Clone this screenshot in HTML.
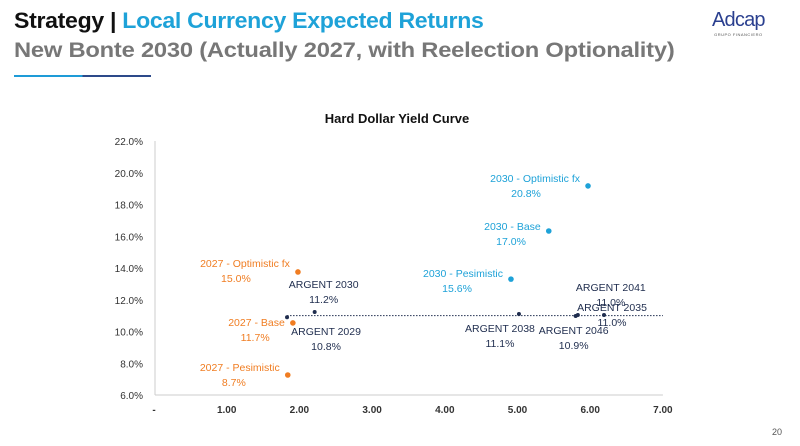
<!DOCTYPE html>
<html><head><meta charset="utf-8"><style>
body{margin:0;width:800px;height:446px;background:#fff;font-family:"Liberation Sans",sans-serif;overflow:hidden;position:relative}
.t1{position:absolute;left:14px;top:8px;font-size:22px;font-weight:bold;color:#111;letter-spacing:-0.3px;transform:scaleX(1.05);transform-origin:0 0;white-space:nowrap}
.t1 span{color:#1ea2d8}
.t2{position:absolute;left:14px;top:39px;font-size:21px;font-weight:bold;color:#777;letter-spacing:-0.2px;transform:scaleX(1.13);transform-origin:0 0;white-space:nowrap}
.bar{position:absolute;left:14px;top:75px;height:2px;width:137px;background:linear-gradient(90deg,#1e9bd7 50%,#2d4a8a 50%)}
.logo{position:absolute;left:712px;top:9px;font-size:20px;color:#2a3f8f;letter-spacing:-0.8px}
.logo small{display:block;font-size:4px;text-align:center;letter-spacing:0.5px;color:#555}
.pg{position:absolute;left:772px;top:427px;font-size:9px;color:#555}
</style></head><body>
<div class="t1">Strategy | <span>Local Currency Expected Returns</span></div>
<div class="t2">New Bonte 2030 (Actually 2027, with Reelection Optionality)</div>
<div class="bar"></div>
<div class="logo">Adcap<small>GRUPO FINANCIERO</small></div>
<div class="pg">20</div>
<svg id="chart" width="800" height="446" style="position:absolute;left:0;top:0"></svg>
<script>
const xTicks=[0,1,2,3,4,5,6,7];
const xTickLabels=["-","1.00","2.00","3.00","4.00","5.00","6.00","7.00"];
const yTicks=[6,8,10,12,14,16,18,20,22];
const pointNames=["2027 - Optimistic fx","2027 - Base","2027 - Pesimistic","2030 - Optimistic fx","2030 - Base","2030 - Pesimistic","ARGENT 2030","ARGENT 2029","ARGENT 2038","ARGENT 2046","ARGENT 2041","ARGENT 2035"];
const pointX=[1.98,1.91,1.84,5.97,5.43,4.91,2.21,1.83,5.02,5.80,5.83,6.19];
const pointY=[13.75,10.54,7.26,19.17,16.33,13.3,11.23,10.9,11.1,10.98,11.04,11.04];
const pointLabels=["15.0%","11.7%","8.7%","20.8%","17.0%","15.6%","11.2%","10.8%","11.1%","10.9%","11.0%","11.0%"];
const pointGroup=["o","o","o","b","b","b","d","d","d","d","d","d"];
const curveY=11.0;
// label offsets (style only)
const lo=[[-8,-5,"end"],[-8,3,"end"],[-8,-4,"end"],[-8,-4,"end"],[-8,-1,"end"],[-8,-2,"end"],[9,-24,"middle"],[39,18,"middle"],[-19,18,"middle"],[-2,18,"middle"],[33,-24,"middle"],[8,-4,"middle"]];
const colors={o:"#f07d22",b:"#1ea2d8",d:"#1f2d4e"};
const xs=v=>154+v*72.7, ys=v=>141+(22-v)*15.875;
const svg=document.getElementById('chart'),NS="http://www.w3.org/2000/svg";
function mk(t,a,txt){const e=document.createElementNS(NS,t);for(const k in a)e.setAttribute(k,a[k]);if(txt!=null)e.textContent=txt;svg.appendChild(e);return e;}
let e=mk('text',{x:397,y:123,'text-anchor':'middle','font-size':13,'font-weight':'bold',fill:'#111'},'Hard Dollar Yield Curve');


e=mk('line',{x1:155,y1:ys(22),x2:155,y2:ys(6),stroke:'#ccc'});


e=mk('line',{x1:155,y1:ys(6),x2:xs(7),y2:ys(6),stroke:'#ccc'});


yTicks.forEach(v=>{const t=mk('text',{x:143,y:ys(v)+4,'text-anchor':'end','font-size':10,fill:'#333'},v.toFixed(1)+'%');

});
xTicks.forEach((v,i)=>{const t=mk('text',{x:xs(v),y:413,'text-anchor':'middle','font-size':10,'font-weight':'bold',fill:'#333'},xTickLabels[i]);

});
e=mk('line',{x1:xs(1.83),y1:ys(curveY),x2:xs(7),y2:ys(curveY),stroke:'#1f2d4e','stroke-dasharray':'1.5,1.5','stroke-width':1});


pointX.forEach((v,i)=>{const c=colors[pointGroup[i]],px=xs(v),py=ys(pointY[i]);
const d=mk('circle',{cx:px,cy:py,r:pointGroup[i]=='d'?2:2.8,fill:c});


const [dx,dy,an]=lo[i];const fc=pointGroup[i]=='d'?'#1f2d4e':c;
const t1=mk('text',{x:px+dx,y:py+dy,'text-anchor':an,'font-size':10.5,fill:fc},pointNames[i]);


const ax=an=='end'?px+dx-(pointNames[i].length*5.4)/2:px+dx;
const t2=mk('text',{x:ax,y:py+dy+15,'text-anchor':'middle','font-size':10.5,fill:fc},pointLabels[i]);

});
</script>
</body></html>
